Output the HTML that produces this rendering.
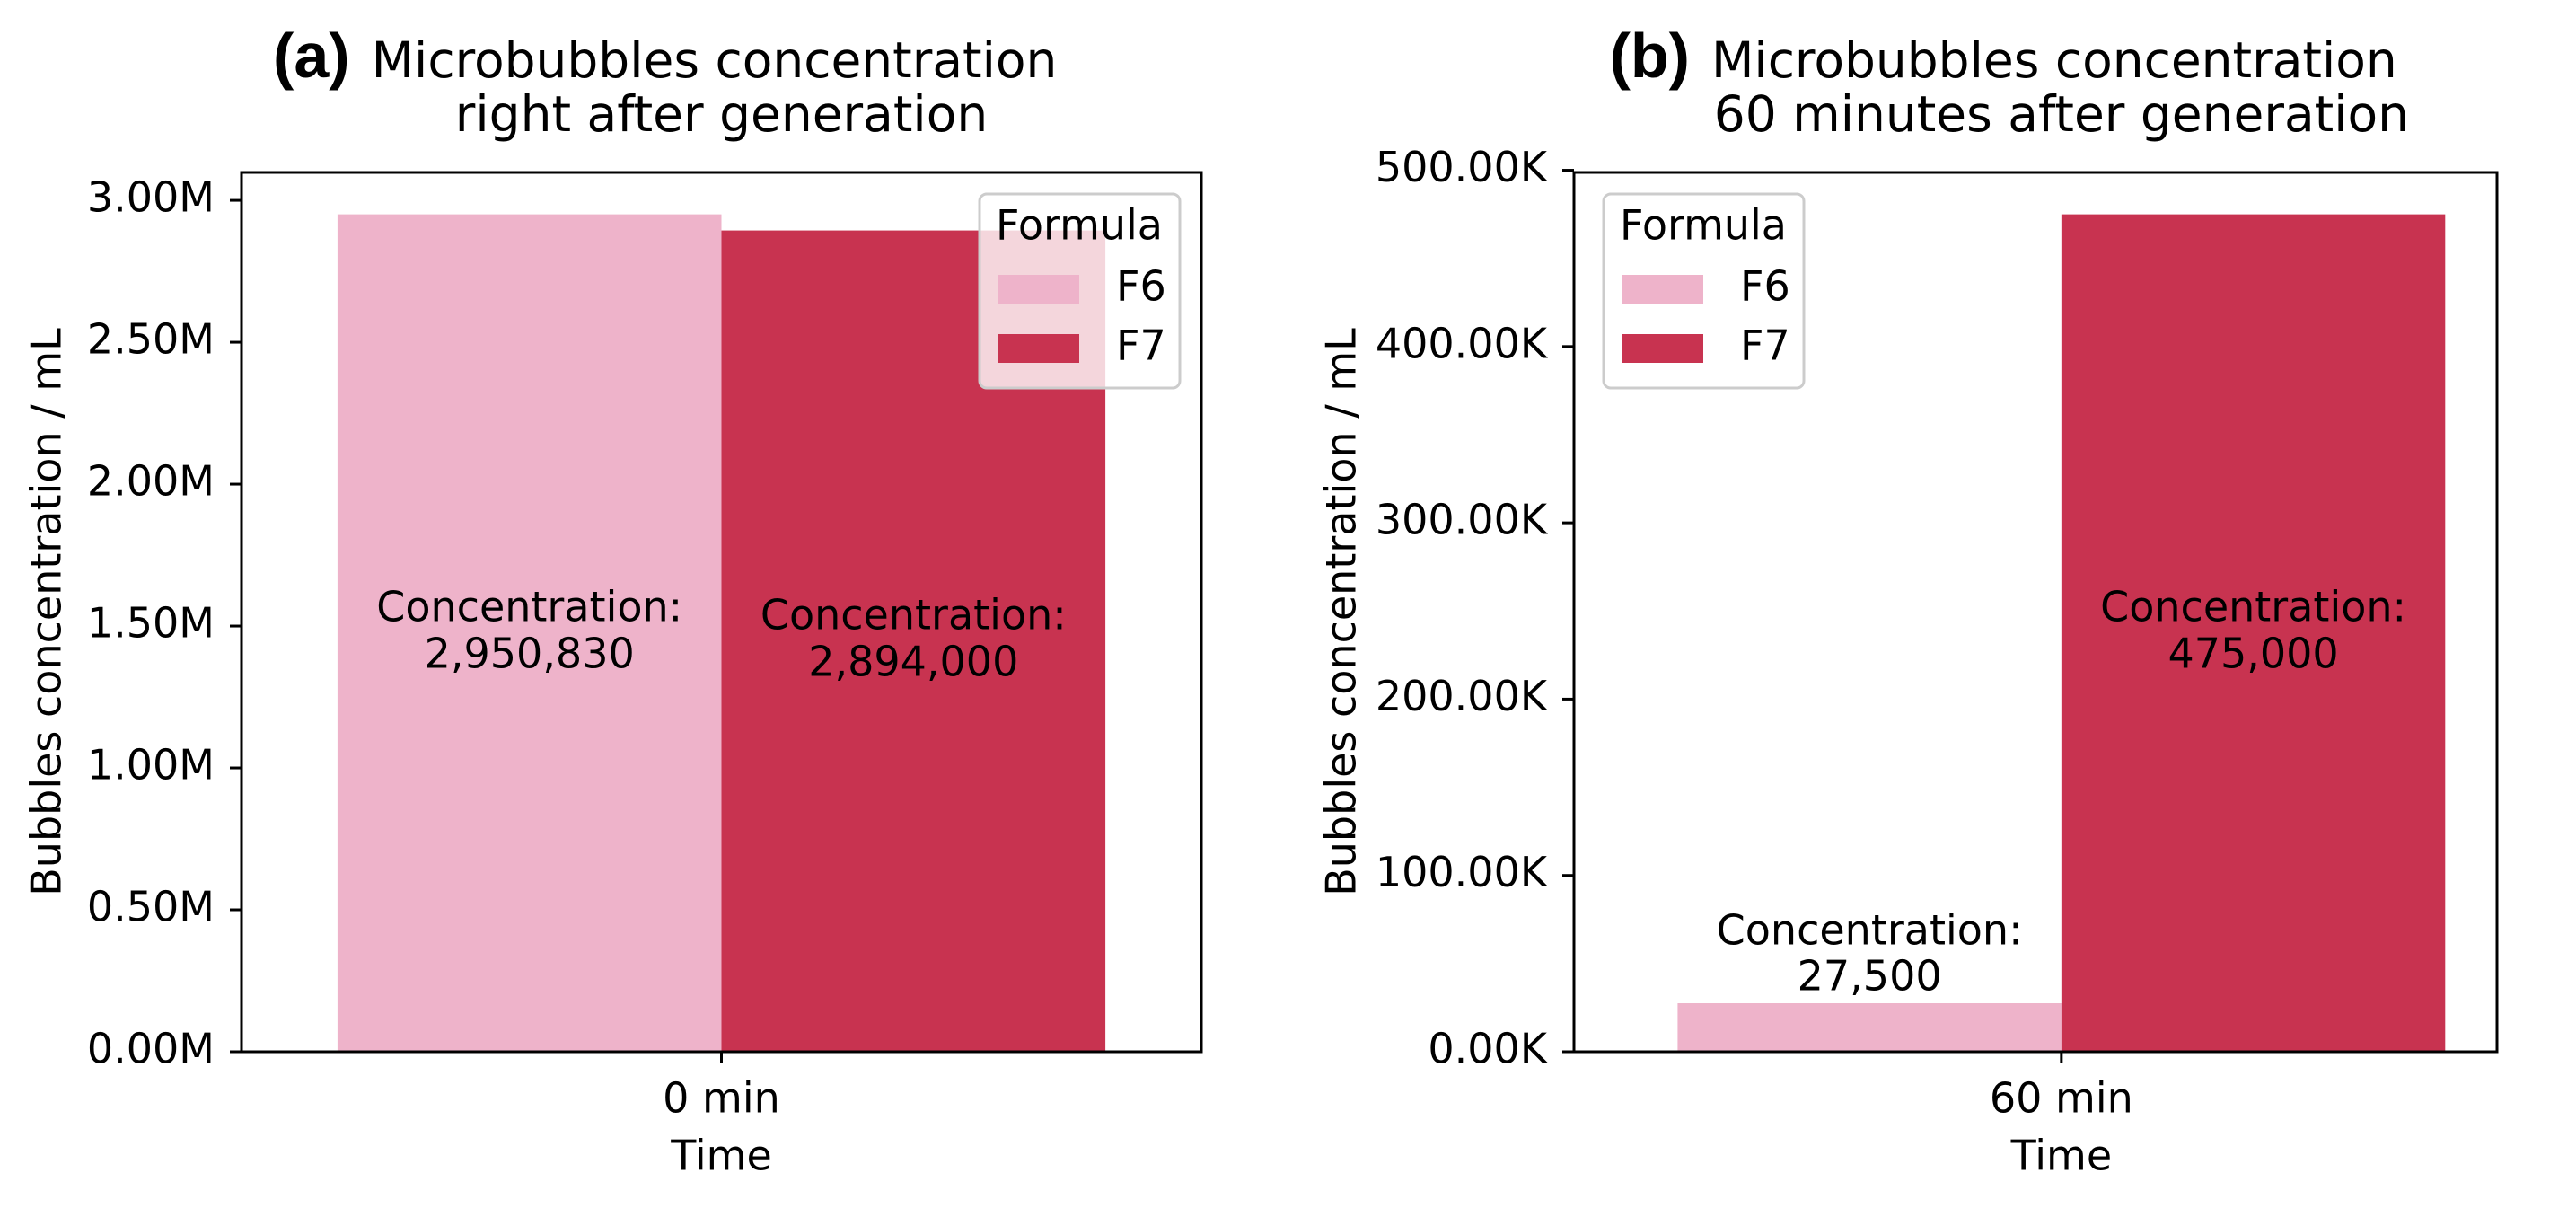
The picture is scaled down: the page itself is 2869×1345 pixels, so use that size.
<!DOCTYPE html>
<html><head><meta charset="utf-8"><style>
body{margin:0;background:#fff}
svg text{font-family:"DejaVu Sans","Liberation Sans",sans-serif;fill:#000}
</style></head><body>
<svg id="fig" width="2869" height="1340" viewBox="0 0 2869 1340"></svg>
<script>
const panelIds = ["a","b"];
const titles1 = ["Microbubbles concentration","Microbubbles concentration"];
const titles2 = ["right after generation","60 minutes after generation"];
const categories = ["0 min","60 min"];
const seriesNames = ["F6","F7"];
const f6Values = [2950830, 27500];
const f7Values = [2894000, 475000];
const yTickValuesA = [0,500000,1000000,1500000,2000000,2500000,3000000];
const yTickLabelsA = ["0.00M","0.50M","1.00M","1.50M","2.00M","2.50M","3.00M"];
const yTickValuesB = [0,100000,200000,300000,400000,500000];
const yTickLabelsB = ["0.00K","100.00K","200.00K","300.00K","400.00K","500.00K"];
const labelsPlaced = ["inside","above"];

const colors=["#EEB3CA","#C83350"];
const svg=document.getElementById('fig');
const NS="http://www.w3.org/2000/svg";
function mk(t,a,txt){const e=document.createElementNS(NS,t);for(const k in a)e.setAttribute(k,a[k]);if(txt!==undefined)e.textContent=txt;svg.appendChild(e);return e;}
function fmt(v){return v.toLocaleString('en-US');}

const boxes=[{l:269,r:1338,legX:1091,xmin:-0.5,xmax:0.5},{l:1753,r:2781,legX:1786,xmin:-0.508,xmax:0.454}];
const plotTop=192,plotBottom=1171;
const FS=46;
panelIds.forEach((pid,i)=>{
  const b=boxes[i];
  const maxV=Math.max(f6Values[i],f7Values[i])*1.05;
  const y=v=>plotBottom-(v/maxV)*(plotBottom-plotTop);
  const x=u=>b.l+(u-b.xmin)/(b.xmax-b.xmin)*(b.r-b.l);
  const vals=[f6Values[i],f7Values[i]];
  vals.forEach((v,s)=>{
    const x0=x(s===0?-0.4:0), x1=x(s===0?0:0.4);
    let r=mk('rect',{x:x0,y:y(v),width:x1-x0,height:plotBottom-y(v),fill:colors[s]});
    
    
    const cx=(x0+x1)/2;
    let cy, inside = !(labelsPlaced[i]==="above" && s===0);
    let t1,t2;
    if(inside){cy=(y(v)+plotBottom)/2;t1=cy-26;t2=cy+26;}
    else{t2=y(v)-27;t1=t2-51;}
    let a=mk('text',{x:cx,y:t1,'font-size':FS,'text-anchor':'middle','dominant-baseline':'middle'},'Concentration:');
    
    
    let c=mk('text',{x:cx,y:t2,'font-size':FS,'text-anchor':'middle','dominant-baseline':'middle'},fmt(v));
    
    
  });
  let fr=mk('rect',{x:b.l,y:plotTop,width:b.r-b.l,height:plotBottom-plotTop,fill:'none',stroke:'#000','stroke-width':3});
  
  
  const tv=i===0?yTickValuesA:yTickValuesB, tl=i===0?yTickLabelsA:yTickLabelsB;
  tv.forEach((v,k)=>{
    mk('line',{x1:b.l-13,x2:b.l,y1:y(v),y2:y(v),stroke:'#000','stroke-width':3});
    let t=mk('text',{x:b.l-30,y:y(v),'font-size':FS,'text-anchor':'end','dominant-baseline':'middle'},tl[k]);
    
    
  });
  const cx=x(0);
  mk('line',{x1:cx,x2:cx,y1:plotBottom,y2:plotBottom+13,stroke:'#000','stroke-width':3});
  let xt=mk('text',{x:cx,y:1226,'font-size':FS,'text-anchor':'middle','dominant-baseline':'middle'},categories[i]);
  
  
  let xl=mk('text',{x:cx,y:1290,'font-size':FS,'text-anchor':'middle','dominant-baseline':'middle'},'Time');
  
  
  const yx=i===0?55:1497;
  const ym=(plotTop+plotBottom)/2;
  let yl=mk('text',{x:yx,y:ym,'font-size':FS,'text-anchor':'middle','dominant-baseline':'middle',transform:`rotate(-90 ${yx} ${ym})`},'Bubbles concentration / mL');
  
  
  const tcx=cx-8;
  let tt=mk('text',{x:tcx,y:86,'font-size':55,'text-anchor':'middle'},titles1[i]);
  
  
  const w=tt.getComputedTextLength();
  let pl=mk('text',{x:tcx-w/2-24,y:86,'font-size':70,'font-weight':'bold','text-anchor':'end',style:'font-family:"Liberation Sans",sans-serif'},'('+pid+')');
  
  
  let tt2=mk('text',{x:cx,y:146,'font-size':55,'text-anchor':'middle'},titles2[i]);
  
  
  const lx=b.legX;
  let lg=mk('rect',{x:lx,y:216,width:223,height:216,rx:8,fill:'#fff','fill-opacity':0.8,stroke:'#ccc','stroke-width':3});
  
  
  let lt=mk('text',{x:lx+111,y:254,'font-size':FS,'text-anchor':'middle','dominant-baseline':'middle'},'Formula');
  
  
  seriesNames.forEach((n,s)=>{
    const ry=322+s*66;
    let p=mk('rect',{x:lx+20,y:ry-16,width:91,height:32,fill:colors[s]});
    
    
    let t=mk('text',{x:lx+152,y:ry,'font-size':FS,'dominant-baseline':'middle'},n);
    
    
  });
});
</script>
</body></html>
